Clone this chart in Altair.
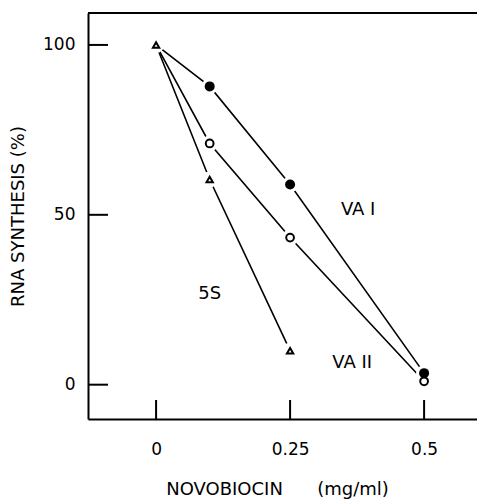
import altair as alt
import pandas as pd

# ---- data ----
conc = [0, 0.1, 0.25, 0.5]
va1 = [100, 87.8, 58.9, 3.4]
va2 = [100, 71.0, 43.3, 1.0]
conc_5s = [0, 0.1, 0.25]
s5 = [100, 60.4, 10.0]

x_ticks = [0, 0.25, 0.5]
y_ticks = [0, 50, 100]

labels = ["VA I", "VA II", "5S"]
label_x = [0.377, 0.366, 0.100]
label_y = [51.5, 6.4, 26.7]

rows = []
for c, v in zip(conc, va1):
    rows.append({"conc": c, "val": v, "series": "VA I"})
for c, v in zip(conc, va2):
    rows.append({"conc": c, "val": v, "series": "VA II"})
for c, v in zip(conc_5s, s5):
    rows.append({"conc": c, "val": v, "series": "5S"})
df = pd.DataFrame(rows)

lab_df = pd.DataFrame({"label": labels, "x": label_x, "y": label_y})
xt_df = pd.DataFrame({"t": x_ticks})
yt_df = pd.DataFrame({"t": y_ticks})

W, H = 389, 406
FONT = "DejaVu Sans"

xs = alt.Scale(domain=[-0.127, 0.5987], nice=False, zero=False)
ys = alt.Scale(domain=[-10.1, 109.4], nice=False, zero=False)

x_axis = alt.Axis(
    values=x_ticks, labelExpr="datum.value == 0 ? '0' : toString(datum.value)",
    ticks=False, grid=False,
    domainColor="black", domainWidth=2,
    labelFont=FONT, labelFontSize=17, labelColor="black", labelPadding=22,
    title="NOVOBIOCIN\u00a0\u00a0\u00a0\u00a0\u00a0\u00a0(mg/ml)",
    titleFont=FONT, titleFontSize=18, titleFontWeight="normal", titleColor="black",
    titleX=189, titleY=70, titleAlign="center", titleBaseline="middle",
)
y_axis = alt.Axis(
    values=y_ticks, ticks=False, grid=False,
    domainColor="black", domainWidth=2,
    labelFont=FONT, labelFontSize=17, labelColor="black", labelPadding=13,
    title="RNA SYNTHESIS (%)",
    titleFont=FONT, titleFontSize=18, titleFontWeight="normal", titleColor="black",
    titleX=-70, titleY=203, titleAngle=-90, titleAlign="center", titleBaseline="middle",
)

base = alt.Chart(df)

lines = base.mark_line(color="black", strokeWidth=1.6).encode(
    x=alt.X("conc:Q", scale=xs, axis=x_axis),
    y=alt.Y("val:Q", scale=ys, axis=y_axis),
    detail="series:N",
    order="conc:Q",
)

# white halos around the markers to open small gaps in the lines
halo = base.transform_filter(
    "datum.series == '5S' || datum.conc > 0"
).mark_point(shape="circle", filled=True, color="white", size=260, opacity=1).encode(
    x=alt.X("conc:Q", scale=xs), y=alt.Y("val:Q", scale=ys)
)

filled = base.transform_filter(
    "datum.series == 'VA I' && datum.conc > 0"
).mark_point(shape="circle", filled=True, color="black", size=100, opacity=1).encode(
    x=alt.X("conc:Q", scale=xs), y=alt.Y("val:Q", scale=ys)
)

opened = base.transform_filter(
    "datum.series == 'VA II' && datum.conc > 0"
).mark_point(shape="circle", filled=False, color="black", strokeWidth=2, size=60, opacity=1).encode(
    x=alt.X("conc:Q", scale=xs), y=alt.Y("val:Q", scale=ys)
)

tri = base.transform_filter(
    "datum.series == '5S'"
).mark_point(shape="triangle-up", filled=False, color="black", strokeWidth=2, size=40, opacity=1).encode(
    x=alt.X("conc:Q", scale=xs), y=alt.Y("val:Q", scale=ys)
)

text = alt.Chart(lab_df).mark_text(
    font=FONT, fontSize=18, color="black", align="center", baseline="middle"
).encode(
    x=alt.X("x:Q", scale=xs), y=alt.Y("y:Q", scale=ys), text="label:N"
)

xtick = alt.Chart(xt_df).mark_rule(color="black", strokeWidth=2).encode(
    x=alt.X("t:Q", scale=xs), y=alt.value(H - 19), y2=alt.value(H)
)
ytick = alt.Chart(yt_df).mark_rule(color="black", strokeWidth=2).encode(
    y=alt.Y("t:Q", scale=ys), x=alt.value(0), x2=alt.value(20)
)
top = alt.Chart(xt_df).mark_rule(color="black", strokeWidth=2).encode(
    x=alt.value(0), x2=alt.value(W), y=alt.value(0)
)

chart = alt.layer(lines, halo, filled, opened, tri, text, xtick, ytick, top).properties(
    width=W, height=H,
    autosize=alt.AutoSizeParams(type="none"),
    padding={"left": 80, "top": 5, "right": 0, "bottom": 83},
    background="white",
).configure_view(stroke=None)

chart.save("out.html", embed_options={"renderer": "svg", "actions": False})
